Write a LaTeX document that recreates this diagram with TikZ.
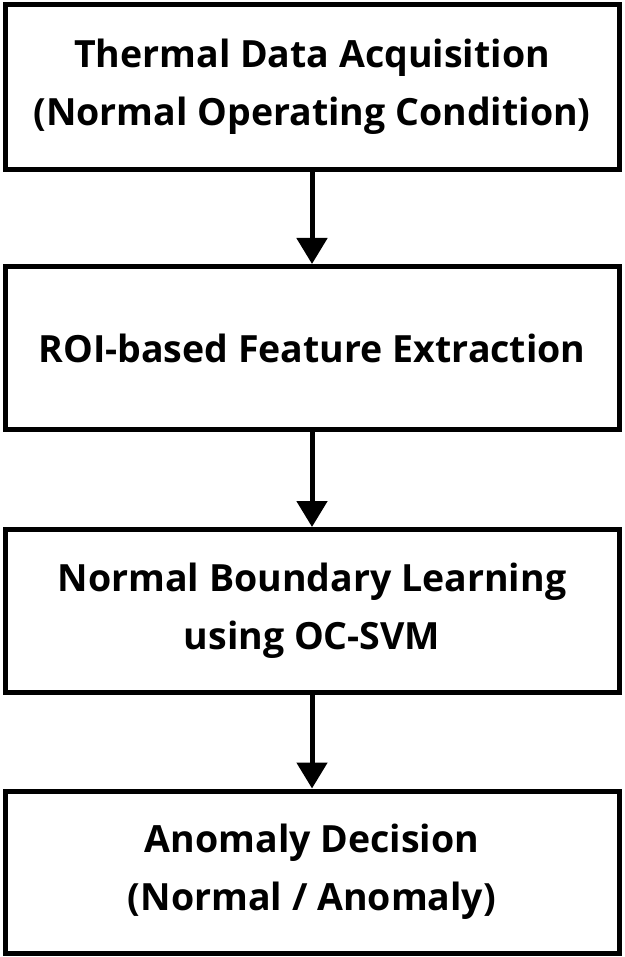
\documentclass[tikz,border=0pt]{standalone}
\usepackage{fontspec}
\setmainfont{Open Sans}
\usetikzlibrary{arrows.meta}
\begin{document}
\begin{tikzpicture}[x=1pt,y=-1pt,
  stepbox/.style={draw,line width=5pt,minimum width=614pt,align=center,font=\fontsize{37.5}{58}\selectfont\bfseries,inner sep=0pt},
  conn/.style={line width=5pt,-{Triangle[length=26pt,width=30pt]}}]
\useasboundingbox (0,0) rectangle (624,957);
\node[stepbox,minimum height=165pt] (a) at (312,87) {Thermal Data Acquisition\\(Normal Operating Condition)};
\node[stepbox,minimum height=163pt] (b) at (312,348) {ROI-based Feature Extraction};
\node[stepbox,minimum height=163pt] (c) at (312,611) {Normal Boundary Learning\\using OC-SVM};
\node[stepbox,minimum height=162pt] (d) at (312,872) {Anomaly Decision\\(Normal / Anomaly)};
\draw[conn] (a) -- (b);
\draw[conn] (b) -- (c);
\draw[conn] (c) -- (d);
\end{tikzpicture}
\end{document}
